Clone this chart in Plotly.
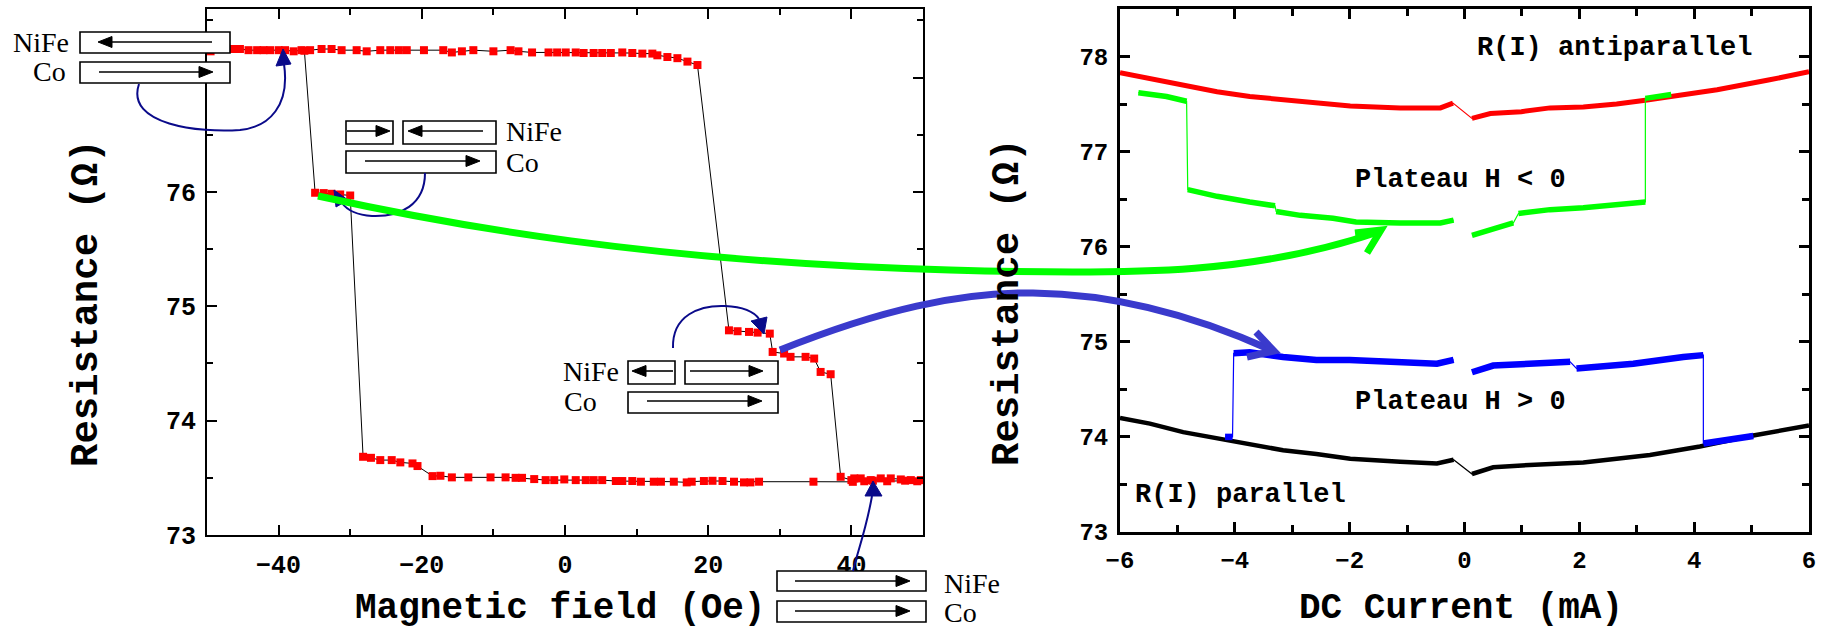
import re
import plotly.graph_objects as go

W, H = 1827, 631

# ---------------- R(H) hysteresis loop (left panel), in sweep order ----------------
field_oe = [
    -49.5, -46.3, -45.4, -44.2, -43.0, -42.1, -41.2, -40.0, -39.1, -37.9, -36.8,
    -35.6, -34.0, -32.6, -31.2, -29.1, -27.7, -25.8, -24.4, -23.2, -22.1, -19.7,
    -17.0, -15.8, -14.4, -12.8, -10.0, -7.6, -6.5, -4.6, -2.3, -1.1, 0.1, 1.5,
    2.6, 4.0, 5.2, 6.4, 8.0, 9.4, 10.8, 12.2, 12.9, 14.3, 15.7, 17.1, 18.5,
    22.9, 24.1, 25.7, 26.9, 28.6, 29.0, 30.6, 31.5, 33.6, 34.8, 35.7, 37.1,
    38.5, 40.0, 40.4, 41.3, 42.7, 44.1, 45.5, 46.9, 48.3, 49.7,
    49.2, 47.5, 45.0, 43.0, 41.8, 40.2, 34.7, 27.1, 25.9, 25.0, 23.6, 22.0,
    20.6, 19.4, 17.7, 17.0, 15.2, 13.4, 12.4, 10.6, 9.4, 8.0, 7.1, 5.2, 4.0,
    2.9, 1.5, -0.1, -1.5, -2.7, -4.3, -6.0, -6.9, -8.3, -10.4, -13.5, -15.8,
    -17.4, -18.5, -20.6, -21.3, -23.0, -24.2, -25.8, -27.1, -28.2,
    -30.0, -31.4, -32.6, -33.7, -34.9, -36.4,
]
res_loop = [
    77.23, 77.25, 77.25, 77.24, 77.24, 77.24, 77.24, 77.24, 77.24, 77.23, 77.24,
    77.24, 77.25, 77.25, 77.24, 77.24, 77.23, 77.24, 77.24, 77.24, 77.24, 77.24,
    77.24, 77.22, 77.23, 77.24, 77.23, 77.24, 77.23, 77.22, 77.22, 77.22, 77.22, 77.22,
    77.215, 77.215, 77.215, 77.215, 77.22, 77.215, 77.21, 77.21, 77.195, 77.18, 77.17, 77.14, 77.11,
    74.79, 74.782, 74.776, 74.77, 74.761, 74.601, 74.587, 74.558, 74.558, 74.543, 74.426, 74.406,
    73.509, 73.48, 73.495, 73.495, 73.48, 73.495, 73.495, 73.486, 73.48, 73.48,
    73.47, 73.475, 73.47, 73.475, 73.47, 73.465, 73.466, 73.466, 73.46, 73.46, 73.466, 73.472,
    73.474, 73.472, 73.466, 73.46, 73.466, 73.466, 73.466, 73.466, 73.472, 73.472, 73.472, 73.48, 73.48,
    73.48, 73.48, 73.486, 73.48, 73.48, 73.489, 73.50, 73.50, 73.504, 73.504, 73.504, 73.504,
    73.518, 73.515, 73.603, 73.626, 73.635, 73.655, 73.655, 73.675, 73.684,
    75.969, 75.978, 75.984, 75.99, 75.993, 77.235,
]

# ---------------- R(I) curves (right panel), one list per measured segment ----------------
ap_current = [[-6.0, -5.48, -4.90, -4.31, -3.74, -3.16, -2.57, -1.99, -1.12, -0.42, -0.20],
              [0.13, 0.45, 0.99, 1.49, 2.07, 2.65, 3.15, 3.58, 4.40, 5.27, 6.0]]
ap_res = [[77.83, 77.77, 77.69, 77.63, 77.58, 77.55, 77.51, 77.48, 77.46, 77.46, 77.51],
          [77.35, 77.40, 77.42, 77.46, 77.47, 77.50, 77.54, 77.58, 77.65, 77.75, 77.84]]

hneg_current = [[-5.68, -5.19, -4.84], [-4.82, -4.31, -3.74, -3.30],
                [-3.28, -2.86, -2.29, -1.89, -1.12, -0.42, -0.19],
                [0.13, 0.45, 0.85], [0.94, 1.49, 2.07, 2.60, 3.15], [3.15, 3.60]]
hneg_res = [[77.62, 77.58, 77.53], [76.60, 76.53, 76.47, 76.43],
            [76.37, 76.33, 76.30, 76.26, 76.25, 76.25, 76.28],
            [76.12, 76.18, 76.25], [76.35, 76.39, 76.41, 76.44, 76.47], [77.56, 77.60]]

hpos_current = [[-4.17, -4.04], [-4.02, -3.74, -3.16, -2.58, -2.0, -1.12, -0.48, -0.19],
                [0.13, 0.50, 1.49, 1.84], [1.95, 2.94, 3.81, 4.16], [4.16, 5.03]]
hpos_res = [[74.00, 74.00], [74.88, 74.89, 74.84, 74.81, 74.81, 74.79, 74.77, 74.81],
            [74.68, 74.75, 74.78, 74.79], [74.72, 74.77, 74.84, 74.86], [73.93, 74.01]]

p_current = [[-6.0, -5.48, -4.90, -4.03, -3.16, -2.58, -1.99, -1.12, -0.48, -0.19],
             [0.13, 0.50, 1.0, 2.07, 3.23, 4.10, 4.98, 6.0]]
p_res = [[74.20, 74.14, 74.05, 73.95, 73.86, 73.82, 73.77, 73.74, 73.72, 73.76],
         [73.61, 73.68, 73.70, 73.73, 73.81, 73.90, 74.01, 74.12]]

x_ticks_left = [-40, -20, 0, 20, 40]
y_ticks_left = [73, 74, 75, 76, 77]
y_labels_left = ["73", "74", "75", "76", ""]   # the 77 label sits under the sketch box
x_ticks_right = [-6, -4, -2, 0, 2, 4, 6]
y_ticks_right = [73, 74, 75, 76, 77, 78]

RED, GREEN, BLUE, NAVY, ARROW_BLUE = "#ff0000", "#00ff00", "#0000ff", "#0a0a8a", "#3a3acc"
MONO = "Liberation Mono"
SERIF = "Liberation Serif"


def fx(x):
    return x / W


def fy(y):
    return 1 - y / H


def path(d):
    """Convert a path written in canvas pixels into paper coordinates."""
    return re.sub(r"(-?\d+(?:\.\d+)?),(-?\d+(?:\.\d+)?)",
                  lambda m: f"{fx(float(m.group(1))):.5f},{fy(float(m.group(2))):.5f}", d)


fig = go.Figure()

# left panel
fig.add_trace(go.Scatter(
    x=field_oe, y=res_loop, mode="lines+markers", xaxis="x", yaxis="y",
    line=dict(color="black", width=1),
    marker=dict(symbol="square", size=8, color=RED, line=dict(width=0)),
    hoverinfo="skip"))


def add_series(cur, res, color, width, gaps):
    # thin line through the whole sweep (jumps included), broken where no data was taken
    xs, ys = [], []
    for i, (c, r) in enumerate(zip(cur, res)):
        xs += c
        ys += r
        if i in gaps:
            xs.append(None)
            ys.append(None)
    fig.add_trace(go.Scatter(x=xs, y=ys, mode="lines", xaxis="x2", yaxis="y2",
                             line=dict(color=color, width=1.2), hoverinfo="skip"))
    for c, r in zip(cur, res):
        fig.add_trace(go.Scatter(x=c, y=r, mode="lines", xaxis="x2", yaxis="y2",
                                 line=dict(color=color, width=width), hoverinfo="skip"))


add_series(p_current, p_res, "black", 4.5, gaps=[])
add_series(ap_current, ap_res, RED, 5, gaps=[])
add_series(hpos_current, hpos_res, BLUE, 6.5, gaps=[1])
add_series(hneg_current, hneg_res, GREEN, 5.5, gaps=[2])

axis_common = dict(showline=True, linecolor="black", mirror="allticks", ticks="inside",
                   tickcolor="black", showgrid=False, zeroline=False, automargin=False)

fig.update_layout(
    width=W, height=H, margin=dict(l=0, r=0, t=0, b=0, pad=0, autoexpand=False),
    paper_bgcolor="white", plot_bgcolor="white", showlegend=False,
    xaxis=dict(domain=[fx(207), fx(923)], range=[-50, 50], anchor="y",
               tickvals=x_ticks_left, ticklen=10, tickwidth=2, linewidth=2,
               minor=dict(dtick=10, tick0=0, ticklen=6, tickwidth=2, ticks="inside", tickcolor="black"),
               tickfont=dict(family=MONO, size=25, color="black", weight="bold"),
               ticklabelstandoff=6, **axis_common),
    yaxis=dict(domain=[fy(535), fy(9)], range=[73, 77.6], anchor="x",
               tickvals=y_ticks_left, ticktext=y_labels_left, ticklen=10, tickwidth=2, linewidth=2,
               minor=dict(dtick=0.5, tick0=73, ticklen=6, tickwidth=2, ticks="inside", tickcolor="black"),
               tickfont=dict(family=MONO, size=25, color="black", weight="bold"),
               ticklabelstandoff=4, **axis_common),
    xaxis2=dict(domain=[fx(1120), fx(1809)], range=[-6, 6], anchor="y2",
                tickvals=x_ticks_right, ticklen=10, tickwidth=2.5, linewidth=3,
                minor=dict(dtick=1, tick0=0, ticklen=7, tickwidth=2.5, ticks="inside", tickcolor="black"),
                tickfont=dict(family=MONO, size=24, color="black", weight="bold"),
                ticklabelstandoff=4, **axis_common),
    yaxis2=dict(domain=[fy(532), fy(9)], range=[73, 78.5], anchor="x2",
                tickvals=y_ticks_right, ticklen=10, tickwidth=2.5, linewidth=3,
                minor=dict(dtick=0.5, tick0=73, ticklen=7, tickwidth=2.5, ticks="inside", tickcolor="black"),
                tickfont=dict(family=MONO, size=24, color="black", weight="bold"),
                ticklabelstandoff=4, **axis_common),
)

shapes = []


def box(x0, y0, x1, y1):
    shapes.append(dict(type="rect", xref="paper", yref="paper", x0=fx(x0), x1=fx(x1),
                       y0=fy(y1), y1=fy(y0), line=dict(color="black", width=1.6),
                       fillcolor="white", layer="above"))


def moment(x0, x1, y):
    s = 1 if x1 > x0 else -1
    hl, hw = 14, 5.5
    shapes.append(dict(type="path", xref="paper", yref="paper",
                       path=path(f"M {x0},{y} L {x1 - s * hl},{y}"),
                       line=dict(color="black", width=1.6)))
    shapes.append(dict(type="path", xref="paper", yref="paper",
                       path=path(f"M {x1},{y} L {x1 - s * hl},{y - hw} L {x1 - s * hl},{y + hw} Z"),
                       fillcolor="black", line=dict(color="black", width=1)))


def curve(d, color, width, head=None):
    shapes.append(dict(type="path", xref="paper", yref="paper", path=path(d),
                       line=dict(color=color, width=width), layer="above"))
    if head:
        shapes.append(dict(type="path", xref="paper", yref="paper", path=path(head),
                           fillcolor=color, line=dict(color=color, width=1), layer="above"))


# magnetisation sketches (NiFe over Co)
box(80, 32, 230, 53); moment(212, 98, 42)
box(80, 62, 230, 83); moment(99, 213, 72)

box(346, 121, 393, 144); moment(347, 390, 131)
box(403, 121, 496, 144); moment(483, 408, 131)
box(346, 151, 496, 173); moment(365, 480, 161)

box(628, 361, 675, 384); moment(673, 632, 371)
box(685, 361, 778, 384); moment(690, 763, 371)
box(628, 392, 778, 413); moment(647, 762, 401)

box(777, 571, 926, 591); moment(795, 910, 581)
box(777, 601, 926, 622); moment(795, 910, 611)

# thin arrows from each sketch to its state on the loop
curve("M 139,84 C 125,125 200,133 240,130 C 270,127 290,105 284,64", NAVY, 2,
      "M 283,49 L 276,66 L 291,64 Z")
curve("M 425,173 C 425,205 400,217 372,216 C 357,215 347,210 342,203", NAVY, 2,
      "M 334,190 L 348,200 L 336,207 Z")
curve("M 673,348 C 672,315 700,305 725,306 C 745,307 755,313 759,319", NAVY, 2,
      "M 764,334 L 751,321 L 767,317 Z")
curve("M 853,571 C 858,550 866,530 872,496", NAVY, 2,
      "M 873,481 L 865,496 L 882,496 Z")

# thick arrows linking the loop plateaus to the R(I) plateaus
curve("M 318,196 C 450,225 650,262 950,270 C 1150,276 1260,272 1378,232", GREEN, 7)
curve("M 1355,233 L 1381,230 L 1367,253", GREEN, 7)
curve("M 780,350 C 880,310 960,292 1033,293 C 1120,294 1200,318 1271,350", ARROW_BLUE, 7)
curve("M 1256,332 L 1274,351 L 1247,357", ARROW_BLUE, 7)

fig.update_layout(shapes=shapes)

ann = []


def text(s, x, y, size, family=MONO, bold=True, xanchor="center", yanchor="middle", angle=0):
    ann.append(dict(text=s, x=fx(x), y=fy(y), xref="paper", yref="paper",
                    xanchor=xanchor, yanchor=yanchor, showarrow=False, textangle=angle,
                    font=dict(family=family, size=size, color="black",
                              weight="bold" if bold else "normal")))


# axis titles (x titles sit on the bottom edge of the canvas)
text("Magnetic field (Oe)", 560, 631, 36, yanchor="bottom")
text("Resistance (\u03a9)", 87, 303, 39, angle=-90)
text("DC Current (mA)", 1461, 631, 36, yanchor="bottom")
text("Resistance (\u03a9)", 1008, 302, 39, angle=-90)

text("R(I) antiparallel", 1475, 48, 27, xanchor="left")
text("Plateau H < 0", 1353, 180, 27, xanchor="left")
text("Plateau H > 0", 1353, 402, 27, xanchor="left")
text("R(I) parallel", 1133, 495, 27, xanchor="left")

text("NiFe", 71, 42, 28, family=SERIF, bold=False, xanchor="right")
text("Co", 68, 72, 28, family=SERIF, bold=False, xanchor="right")
text("NiFe", 504, 131, 28, family=SERIF, bold=False, xanchor="left")
text("Co", 504, 162, 28, family=SERIF, bold=False, xanchor="left")
text("NiFe", 561, 371, 28, family=SERIF, bold=False, xanchor="left")
text("Co", 562, 401, 28, family=SERIF, bold=False, xanchor="left")
text("NiFe", 942, 583, 28, family=SERIF, bold=False, xanchor="left")
text("Co", 942, 612, 28, family=SERIF, bold=False, xanchor="left")

fig.update_layout(annotations=ann)

fig.write_html("out.html")
